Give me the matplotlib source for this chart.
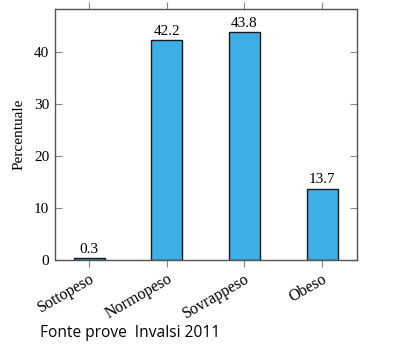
import matplotlib
matplotlib.use("Agg")
import matplotlib.pyplot as plt

categorie = ["Sottopeso", "Normopeso", "Sovrappeso", "Obeso"]
percentuali = [0.3, 42.2, 43.8, 13.7]
y_ticks = [0, 10, 20, 30, 40]

plt.rcParams["font.family"] = ["Liberation Serif", "DejaVu Serif"]

fig = plt.figure(figsize=(4.01, 3.56), dpi=100)
ax = fig.add_axes([54.7 / 401, 1 - 259.7 / 356, (356.7 - 54.7) / 401, (259.7 - 8.7) / 356])

pos = list(range(len(categorie)))
ax.bar(pos, percentuali, width=0.4, color="#3EAFE6", edgecolor="#1a1a1a", linewidth=1.0)

for x, v in zip(pos, percentuali):
    ax.annotate(f"{v:.1f}", (x, v), xytext=(0, 1.5), textcoords="offset points",
                ha="center", va="bottom", fontsize=11)

ax.set_xlim(-0.446, 3.446)
ax.set_ylim(0, 48.3)
ax.set_yticks(y_ticks)
ax.set_xticks(pos)
ax.set_xticklabels(categorie, rotation=30, ha="right", rotation_mode="anchor", fontsize=11.5)
ax.tick_params(axis="x", direction="out", length=5, color="#888888", top=True, labeltop=False, pad=3)
ax.tick_params(axis="y", direction="in", length=5, color="#888888", right=True, labelsize=11, pad=4)
ax.set_ylabel("Percentuale", fontsize=11, labelpad=6)

for s in ax.spines.values():
    s.set_color("#555555")
    s.set_linewidth(1.0)

fig.text(40 / 401, 1 - 333 / 356, "Fonte prove  Invalsi 2011", fontsize=11.2,
         family=["Open Sans", "DejaVu Sans"], va="center", ha="left")

fig.savefig("out.png", dpi=100)
